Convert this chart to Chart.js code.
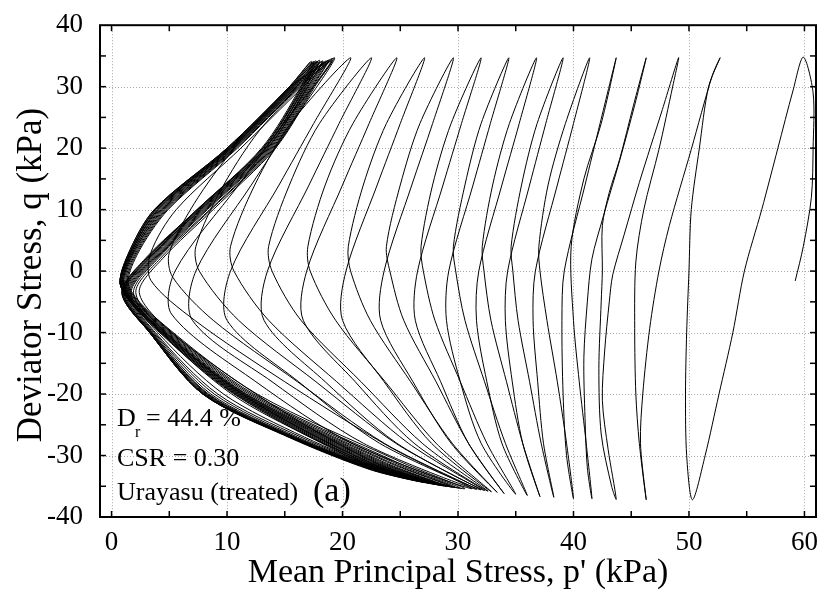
<!DOCTYPE html>
<html><head><meta charset="utf-8">
<script src="https://cdn.jsdelivr.net/npm/chart.js@4/dist/chart.umd.min.js"></script>
<style>html,body{margin:0;padding:0;background:#fff}#wrap{width:823px;height:597px}</style>
</head><body><div id="wrap"><canvas id="c" width="823" height="597"></canvas></div>
<script>
const xTicks = [0, 10, 20, 30, 40, 50, 60];
const yTicks = [-40, -30, -20, -10, 0, 10, 20, 30, 40];
const xTitle = "Mean Principal Stress, p' (kPa)";
const yTitle = "Deviator Stress, q (kPa)";

// initial compression loading from the isotropic state
const initialLoading = [[59.2,-1.6],[59.9,4],[60.6,12],[60.75,20],[60.75,29]];

// each descent: compression peak -> extension trough
const descents = [
 [[59.9,34.8],[59.0,29.3],[57.7,20],[56.3,10],[54.8,0],[53.8,-10],[52.6,-20],[51.4,-30],[50.3,-37.2]],
 [[52.7,34.7],[52.0,31.7],[50.2,19.8],[48.3,7.4],[47.4,0],[46.6,-9.3],[46.0,-20],[45.8,-28],[46.3,-37.2]],
 [[49.1,34.7],[47.7,26.3],[45.7,14.4],[44.4,6],[43.4,-0.6],[43.1,-5],[42.7,-13],[42.5,-21],[43.0,-29],[43.7,-37.1]],
 [[46.3,34.7],[45.3,27],[44.0,18],[42.6,9],[41.6,2],[41.2,-5],[40.9,-14],[41.0,-24],[41.2,-32],[41.6,-37.0]],
 [[43.7,34.7],[42.3,24],[41.0,14],[39.2,0],[39.0,-8],[39.1,-20],[39.4,-30],[40.0,-37.0]],
 [[41.4,34.7],[40.0,24],[38.6,14],[36.7,0],[36.5,-8],[36.9,-18],[37.4,-28],[38.3,-36.8]],
 [[39.1,34.7],[37.6,24],[36.2,14],[34.3,0],[34.1,-8],[34.7,-18],[35.6,-28],[37.1,-36.7]],
 [[36.8,34.7],[35.3,24],[33.8,14],[31.8,0],[31.6,-8],[32.5,-18],[33.8,-28],[36.0,-36.5]],
 [[34.4,34.7],[32.8,24],[31.3,14],[29.2,0],[29.0,-8],[30.2,-18],[32.0,-28],[35.0,-36.3]],
 [[32.0,34.7],[30.3,24],[28.7,14],[26.5,0],[26.3,-8],[28.5,-18],[30.9,-28],[34.0,-36.2]],
 [[29.6,34.7],[27.8,24],[26.0,14],[23.6,0],[23.3,-8],[26.1,-18],[29.4,-28],[33.4,-36.0]],
 [[27.1,34.7],[25.0,24],[23.0,14],[20.3,0],[20.0,-8],[23.6,-18],[27.7,-28],[32.9,-35.9]],
 [[24.7,34.7],[22.3,24],[20.0,14],[16.9,0],[16.6,-8],[21.1,-18],[26.2,-28],[32.6,-35.8]],
 [[22.5,34.7],[19.7,24],[17.1,14],[13.5,0],[13.2,-8],[18.5,-18],[24.7,-28],[32.3,-35.7]],
 [[20.7,34.7],[17.5,24],[14.5,14],[10.3,0],[10.0,-8],[16.2,-18],[23.2,-28],[32.0,-35.6]],
 [[19.3,34.7],[15.6,24],[12.1,14],[7.3,0],[7.0,-8],[13.9,-18],[21.8,-28],[31.6,-35.5]],
 [[19.2,34.5],[14.9,24],[11.0,14],[5.5,0],[5.2,-7],[12.5,-18],[20.8,-28],[31.2,-35.4]],
 [[19.1,34.3],[17.6,30],[14.2,20],[8.8,10],[4.4,2],[2.4,-3.5],[5.2,-10],[12.5,-20],[18.6,-27],[24.3,-32.3],[30.6,-35.4]],
 [[19.0,34.2],[17.5,30],[14.1,20],[8.6,10],[4.2,2],[2.1,-3.5],[4.7,-10],[11.3,-20],[17.8,-27],[24.0,-32.3],[30.2,-35.3]],
 [[18.8,34.3],[17.4,30],[14.0,20],[8.5,10],[4.0,2],[1.9,-3.5],[4.3,-10],[10.4,-20],[17.2,-27],[23.8,-32.3],[29.8,-35.2]],
 [[18.7,34.1],[17.3,30],[13.9,20],[8.3,10],[3.9,2],[1.7,-3.5],[4.0,-10],[9.7,-20],[16.7,-27],[23.6,-32.3],[29.5,-35.1]],
 [[18.6,34.2],[17.2,30],[13.8,20],[8.2,10],[3.8,2],[1.6,-3.5],[3.8,-10],[9.2,-20],[16.4,-27],[23.5,-32.3],[29.3,-35.0]],
 [[18.4,34.0],[17.1,30],[13.7,20],[8.1,10],[3.7,2],[1.5,-3.5],[3.7,-10],[8.9,-20],[16.1,-27],[23.4,-32.3],[29.0,-35.0]],
 [[18.3,34.2],[17.0,30],[13.6,20],[8.0,10],[3.6,2],[1.4,-3.5],[3.6,-10],[8.6,-20],[15.9,-27],[23.3,-32.3],[28.8,-34.9]],
 [[18.2,34.1],[17.0,30],[13.5,20],[7.9,10],[3.5,2],[1.3,-3.5],[3.5,-10],[8.4,-20],[15.8,-27],[23.2,-32.3],[28.6,-34.8]],
 [[18.0,34.3],[16.9,30],[13.5,20],[7.8,10],[3.4,2],[1.2,-3.5],[3.5,-10],[8.3,-20],[15.7,-27],[23.1,-32.3],[28.4,-34.8]],
 [[17.9,34.0],[16.8,30],[13.4,20],[7.7,10],[3.3,2],[1.1,-3.5],[3.4,-10],[8.2,-20],[15.6,-27],[23.0,-32.3],[28.2,-34.7]],
 [[17.8,34.1],[16.8,30],[13.3,20],[7.7,10],[3.2,2],[1.1,-3.5],[3.4,-10],[8.1,-20],[15.5,-27],[22.9,-32.3],[28.0,-34.6]],
 [[17.7,34.2],[16.7,30],[13.3,20],[7.6,10],[3.2,2],[1.0,-3.5],[3.4,-10],[8.0,-20],[15.5,-27],[22.8,-32.3],[27.8,-34.6]],
 [[17.6,34.0],[16.6,30],[13.2,20],[7.5,10],[3.1,2],[1.0,-3.5],[3.3,-10],[8.0,-20],[15.4,-27],[22.7,-32.3],[27.6,-34.5]],
 [[17.5,34.1],[16.6,30],[13.1,20],[7.5,10],[3.0,2],[0.9,-3.5],[3.3,-10],[7.9,-20],[15.4,-27],[22.6,-32.3],[27.4,-34.4]],
 [[17.4,33.9],[16.5,30],[13.1,20],[7.4,10],[3.0,2],[0.9,-3.5],[3.3,-10],[7.9,-20],[15.4,-27],[22.5,-32.3],[27.2,-34.4]],
 [[17.3,34.1],[16.4,30],[13.0,20],[7.4,10],[2.9,2],[0.9,-3.5],[3.3,-10],[7.9,-20],[15.3,-27],[22.4,-32.3],[27.0,-34.3]]
];

// each ascent: extension trough -> next compression peak
const ascents = [
 [[50.3,-37.2],[49.8,-30],[49.7,-20],[49.8,-10],[50.0,0],[50.2,10],[50.9,20],[51.7,30],[52.7,34.7]],
 [[46.3,-37.2],[45.7,-28],[45.4,-20],[45.3,-9.3],[45.4,1.5],[46.1,10.1],[47.4,19.8],[48.6,30.1],[49.1,34.7]],
 [[43.7,-37.1],[43.3,-35],[42.4,-26.5],[42.2,-15.8],[42.4,-5],[42.5,0],[42.5,7.4],[43.1,12.8],[44.0,18.2],[45.2,27],[46.3,34.7]],
 [[41.6,-37.0],[41.1,-28],[40.5,-18],[40.0,-8],[39.8,4],[40.9,15],[42.4,24],[43.7,34.7]],
 [[40.0,-37.0],[39.4,-28],[38.6,-18],[37.7,-8],[37.1,0],[37.0,4],[37.8,14],[39.3,24],[41.4,34.7]],
 [[38.3,-36.8],[37.2,-28],[36.2,-18],[35.2,-8],[34.75,0],[34.6,4],[35.5,14],[36.85,24],[39.1,34.7]],
 [[37.1,-36.7],[35.6,-28],[34.2,-18],[32.85,-8],[32.25,0],[32.1,4],[33.0,14],[34.45,24],[36.8,34.7]],
 [[36.0,-36.5],[34.1,-28],[32.3,-18],[30.6,-8],[29.8,0],[29.6,4],[30.6,14],[32.0,24],[34.4,34.7]],
 [[35.0,-36.3],[32.5,-28],[30.2,-18],[28.0,-8],[27.0,0],[26.8,4],[27.8,14],[29.4,24],[32.0,34.7]],
 [[34.0,-36.2],[30.9,-28],[28.1,-18],[25.3,-8],[24.1,0],[23.8,4],[25.0,14],[26.7,24],[29.6,34.7]],
 [[33.4,-36.0],[29.5,-28],[25.9,-18],[22.4,-8],[20.7,0],[20.5,4],[21.8,14],[23.8,24],[27.1,34.7]],
 [[32.9,-35.9],[28.1,-28],[23.7,-18],[19.4,-8],[17.2,0],[17.0,4],[18.5,14],[20.9,24],[24.7,34.7]],
 [[32.6,-35.8],[26.9,-28],[21.6,-18],[16.4,-8],[13.9,0],[13.6,4],[15.4,14],[18.0,24],[22.5,34.7]],
 [[32.3,-35.7],[25.7,-28],[19.5,-18],[13.6,-8],[10.6,0],[10.3,4],[12.4,14],[15.5,24],[20.7,34.7]],
 [[32.0,-35.6],[24.6,-28],[17.7,-18],[11.0,-8],[7.6,0],[7.3,4],[9.7,14],[13.3,24],[19.3,34.7]],
 [[31.6,-35.5],[23.6,-28],[16.1,-18],[8.8,-8],[5.3,-1],[5.0,3],[7.5,12],[11.5,22],[15.6,30],[19.2,34.5]],
 [[31.2,-35.4],[24.0,-28.5],[15.0,-18],[7.2,-8],[3.4,-1.5],[3.4,3],[5.6,10],[11.2,20],[16.6,30],[19.1,34.3]],
 [[30.6,-35.4],[25.0,-31],[12.6,-20],[4.7,-9],[1.5,-2.5],[2.2,2.6],[4.9,10],[10.9,20],[16.3,30],[19.0,34.2]],
 [[30.2,-35.3],[24.6,-31],[12.3,-20],[4.6,-9],[1.4,-2.5],[2.1,2.6],[4.8,10],[10.8,20],[16.2,30],[18.8,34.3]],
 [[29.8,-35.2],[24.3,-31],[12.1,-20],[4.5,-9],[1.3,-2.5],[2.0,2.6],[4.7,10],[10.7,20],[16.1,30],[18.7,34.1]],
 [[29.5,-35.1],[24.0,-31],[11.9,-20],[4.4,-9],[1.2,-2.5],[1.9,2.6],[4.6,10],[10.6,20],[16.0,30],[18.6,34.2]],
 [[29.3,-35.0],[23.8,-31],[11.7,-20],[4.3,-9],[1.1,-2.5],[1.8,2.6],[4.5,10],[10.6,20],[16.0,30],[18.4,34.0]],
 [[29.0,-35.0],[23.5,-31],[11.6,-20],[4.2,-9],[1.1,-2.5],[1.8,2.6],[4.4,10],[10.5,20],[15.9,30],[18.3,34.2]],
 [[28.8,-34.9],[23.3,-31],[11.5,-20],[4.1,-9],[1.0,-2.5],[1.7,2.6],[4.3,10],[10.4,20],[15.8,30],[18.2,34.1]],
 [[28.6,-34.8],[23.1,-31],[11.4,-20],[4.0,-9],[1.0,-2.5],[1.7,2.6],[4.2,10],[10.4,20],[15.8,30],[18.0,34.3]],
 [[28.4,-34.8],[22.9,-31],[11.3,-20],[4.0,-9],[0.9,-2.5],[1.6,2.6],[4.1,10],[10.3,20],[15.7,30],[17.9,34.0]],
 [[28.2,-34.7],[22.7,-31],[11.2,-20],[3.9,-9],[0.9,-2.5],[1.6,2.6],[4.0,10],[10.3,20],[15.7,30],[17.8,34.1]],
 [[28.0,-34.6],[22.5,-31],[11.1,-20],[3.9,-9],[0.9,-2.5],[1.6,2.6],[4.0,10],[10.2,20],[15.6,30],[17.7,34.2]],
 [[27.8,-34.6],[22.3,-31],[11.0,-20],[3.8,-9],[0.8,-2.5],[1.5,2.6],[3.9,10],[10.2,20],[15.6,30],[17.6,34.0]],
 [[27.6,-34.5],[22.1,-31],[10.9,-20],[3.8,-9],[0.8,-2.5],[1.5,2.6],[3.8,10],[10.1,20],[15.5,30],[17.5,34.1]],
 [[27.4,-34.4],[21.9,-31],[10.8,-20],[3.7,-9],[0.8,-2.5],[1.5,2.6],[3.8,10],[10.1,20],[15.5,30],[17.4,33.9]],
 [[27.2,-34.4],[21.7,-31],[10.7,-20],[3.7,-9],[0.8,-2.5],[1.4,2.6],[3.7,10],[10.0,20],[15.4,30],[17.3,34.1]],
 [[27.0,-34.3],[21.5,-31],[10.6,-20],[3.6,-9],[0.8,-2.5],[1.4,2.6],[3.7,10],[10.0,20],[15.4,30],[17.2,34.0]]
];

const annotations = [
  {text: 'CSR = 0.30', x: 117, y: 466, size: 26},
  {text: 'Urayasu (treated)', x: 117, y: 500, size: 26},
  {text: '(a)', x: 313, y: 501, size: 34}
];

// build the continuous stress path
const pathPoints = [];
function pushAll(arr, skipFirst) {
  arr.forEach((pt, i) => { if (!(skipFirst && i === 0)) pathPoints.push({x: pt[0], y: pt[1]}); });
}
pushAll(initialLoading, false);
descents.forEach((d, i) => {
  pushAll(d, i > 0);
  if (ascents[i]) pushAll(ascents[i], true);
});

const SERIF = '"Liberation Serif", "Times New Roman", serif';

const decor = {
  id: 'decor',
  beforeDatasetsDraw(chart) {
    const {ctx, chartArea: a, scales: {x, y}} = chart;
    ctx.save();
    ctx.strokeStyle = '#a8a8a8';
    ctx.lineWidth = 1;
    ctx.setLineDash([1, 2]);
    xTicks.forEach(v => {
      const px = Math.round(x.getPixelForValue(v)) + 0.5;
      ctx.beginPath(); ctx.moveTo(px, a.top); ctx.lineTo(px, a.bottom); ctx.stroke();
    });
    yTicks.forEach(v => {
      if (v === -40 || v === 40) return;
      const py = Math.round(y.getPixelForValue(v)) + 0.5;
      ctx.beginPath(); ctx.moveTo(a.left, py); ctx.lineTo(a.right, py); ctx.stroke();
    });
    ctx.restore();
  },
  afterDatasetsDraw(chart) {
    const {ctx, chartArea: a, scales: {x, y}} = chart;
    ctx.save();
    ctx.setLineDash([]);
    ctx.strokeStyle = '#000';
    ctx.lineWidth = 2;
    ctx.strokeRect(a.left, a.top, a.right - a.left, a.bottom - a.top);
    ctx.lineWidth = 1.5;
    const L = 6;
    for (let v = 0; v <= 60; v += 5) {
      const px = x.getPixelForValue(v);
      ctx.beginPath(); ctx.moveTo(px, a.bottom); ctx.lineTo(px, a.bottom - L); ctx.stroke();
      ctx.beginPath(); ctx.moveTo(px, a.top); ctx.lineTo(px, a.top + L); ctx.stroke();
    }
    for (let v = -35; v <= 35; v += 5) {
      const py = y.getPixelForValue(v);
      ctx.beginPath(); ctx.moveTo(a.left, py); ctx.lineTo(a.left + L, py); ctx.stroke();
      ctx.beginPath(); ctx.moveTo(a.right, py); ctx.lineTo(a.right - L, py); ctx.stroke();
    }
    // annotation texts
    ctx.fillStyle = '#000';
    ctx.textAlign = 'left';
    ctx.textBaseline = 'alphabetic';
    ctx.font = '26px ' + SERIF;
    ctx.fillText('D', 117, 426);
    ctx.font = '16px ' + SERIF;
    ctx.fillText('r', 135, 437);
    ctx.font = '26px ' + SERIF;
    ctx.fillText('= 44.4 %', 146, 426);
    annotations.forEach(t => {
      ctx.font = t.size + 'px ' + SERIF;
      ctx.fillText(t.text, t.x, t.y);
    });
    // axis titles
    ctx.font = '34px ' + SERIF;
    ctx.textAlign = 'center';
    ctx.fillText(xTitle, (a.left + a.right) / 2, 582);
    ctx.translate(41, 275);
    ctx.rotate(-Math.PI / 2);
    ctx.font = '35px ' + SERIF;
    ctx.fillText(yTitle, 0, 0);
    ctx.restore();
  }
};

new Chart(document.getElementById('c'), {
  type: 'scatter',
  data: {datasets: [{
    data: pathPoints, showLine: true, borderColor: '#000', borderWidth: 1,
    pointRadius: 0, tension: 0.3, borderJoinStyle: 'round'
  }]},
  options: {
    responsive: false, animation: false, devicePixelRatio: 1,
    layout: {padding: {left: 0, right: 7, top: 22, bottom: 0}},
    plugins: {legend: {display: false}, tooltip: {enabled: false}},
    scales: {
      x: {
        type: 'linear', min: -1, max: 61,
        grid: {display: false}, border: {display: false},
        afterBuildTicks: ax => { ax.ticks = xTicks.map(v => ({value: v})); },
        afterFit: ax => { ax.height = 80; },
        ticks: {font: {family: SERIF, size: 27}, color: '#000', padding: 2, autoSkip: false, maxRotation: 0}
      },
      y: {
        type: 'linear', min: -40, max: 40,
        grid: {display: false}, border: {display: false},
        afterBuildTicks: ax => { ax.ticks = yTicks.map(v => ({value: v})); },
        afterFit: ax => { ax.width = 100; },
        ticks: {font: {family: SERIF, size: 27}, color: '#000', padding: 9, autoSkip: false}
      }
    }
  },
  plugins: [decor]
});
</script>
</body></html>
